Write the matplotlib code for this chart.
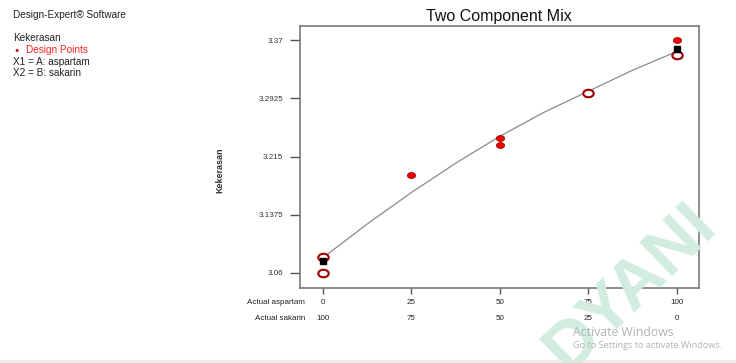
import matplotlib
matplotlib.use("Agg")
import matplotlib.pyplot as plt
from matplotlib.patches import Rectangle
from matplotlib.path import Path
from matplotlib.transforms import Affine2D

plt.rcParams["font.family"] = ["Liberation Sans", "DejaVu Sans"]

# design points (filled red)
design_x = [25, 50, 50, 100]
design_y = [3.1905, 3.2404, 3.2306, 3.3704]

# open rings
ring_x = [0, 0, 75, 100]
ring_y = [3.060, 3.0814, 3.3001, 3.351]

# black squares
square_x = [0, 100]
square_y = [3.076, 3.358]

# fitted curve
curve_x = [0, 12.5, 25, 37.5, 50, 62.5, 75, 87.5, 100]
curve_y = [3.080, 3.125, 3.167, 3.206, 3.242, 3.274, 3.302, 3.330, 3.355]

y_ticks = [3.06, 3.1375, 3.215, 3.2925, 3.37]
y_tick_labels = ["3.06", "3.1375", "3.215", "3.2925", "3.37"]
aspartam_ticks = [0, 25, 50, 75, 100]
sakarin_labels = ["100", "75", "50", "25", "0"]

# the markers in the screenshot are a bit squashed
oval = Path.unit_circle().transformed(Affine2D().scale(1.0, 0.72))

fig = plt.figure(figsize=(7.36, 3.63), dpi=100)
ax = fig.add_axes([300 / 736, 1 - 288 / 363, 399 / 736, 262 / 363])

ax.plot(curve_x, curve_y, color="#8a8a8a", lw=0.9, zorder=2)
ax.plot(ring_x, ring_y, marker=oval, ms=7.5, mfc="white", mec="#a00000",
        mew=1.5, ls="none", zorder=3)
ax.plot(square_x, square_y, "s", ms=5, color="black", ls="none", zorder=4)
ax.plot(design_x, design_y, marker=oval, ms=6, mfc="#ee0000", mec="#990000",
        mew=0.5, ls="none", zorder=5)

ax.set_xlim(-6.4, 106.3)
ax.set_ylim(3.040, 3.389)

ax.set_yticks(y_ticks)
ax.set_yticklabels(y_tick_labels)
ax.set_xticks(aspartam_ticks)
ax.set_xticklabels([])
ax.tick_params(axis="y", direction="out", length=7, width=1, color="#555555",
               labelsize=5.8, labelcolor="#333333", pad=5)
ax.tick_params(axis="x", direction="out", length=4.5, width=1, color="#555555")

for s in ax.spines.values():
    s.set_color("#7a7a7a")
    s.set_linewidth(1.2)

# two rows of mixture labels under the axis
trans = ax.get_xaxis_transform()
for x, lab in zip(aspartam_ticks, sakarin_labels):
    ax.text(x, -0.057, str(x), transform=trans, ha="center", va="center",
            fontsize=5.8, color="#222222")
    ax.text(x, -0.115, lab, transform=trans, ha="center", va="center",
            fontsize=5.8, color="#222222")
ax.text(0.0125, -0.057, "Actual aspartam", transform=ax.transAxes, ha="right",
        va="center", fontsize=5.8, color="#222222")
ax.text(0.0125, -0.115, "Actual sakarin", transform=ax.transAxes, ha="right",
        va="center", fontsize=5.8, color="#222222")

fig.text(220 / 736, 1 - 170 / 363, "Kekerasan", rotation=90, ha="center",
         va="center", fontsize=6.5, fontweight="bold", color="#333333")
fig.text(499 / 736, 1 - 17 / 363, "Two Component Mix", ha="center",
         va="center", fontsize=11.5, color="#111111")

# info block on the left
fig.text(13 / 736, 1 - 15 / 363, "Design-Expert® Software", fontsize=7.2,
         va="center", color="#222222")
fig.text(13 / 736, 1 - 38 / 363, "Kekerasan", fontsize=7.2, va="center",
         color="#222222")
fig.text(17 / 736, 1 - 50 / 363, "\u25cf", fontsize=5, va="center",
         ha="center", color="#cc0000")
fig.text(26 / 736, 1 - 50 / 363, "Design Points", fontsize=7.2, va="center",
         color="#ff2020")
fig.text(13 / 736, 1 - 62 / 363, "X1 = A: aspartam", fontsize=7.2, va="center",
         color="#222222")
fig.text(13 / 736, 1 - 73 / 363, "X2 = B: sakarin", fontsize=7.2, va="center",
         color="#222222")

# screenshot overlays
fig.text(630 / 736, 1 - 287 / 363, "DYANI", rotation=44, ha="center",
         va="center", fontsize=50, fontweight="bold", color="#d2ede0",
         zorder=10)
fig.text(573 / 736, 1 - 333 / 363, "Activate Windows", fontsize=8.8,
         va="center", color="#b4b4b4", family="Open Sans", zorder=11)
fig.text(573 / 736, 1 - 346 / 363, "Go to Settings to activate Windows.",
         fontsize=6.6, va="center", color="#b4b4b4", family="Open Sans",
         zorder=11)
fig.patches.append(Rectangle((0, 0), 1, 3 / 363, transform=fig.transFigure,
                             color="#eeeeee", zorder=0))

fig.savefig("out.png", dpi=100)
